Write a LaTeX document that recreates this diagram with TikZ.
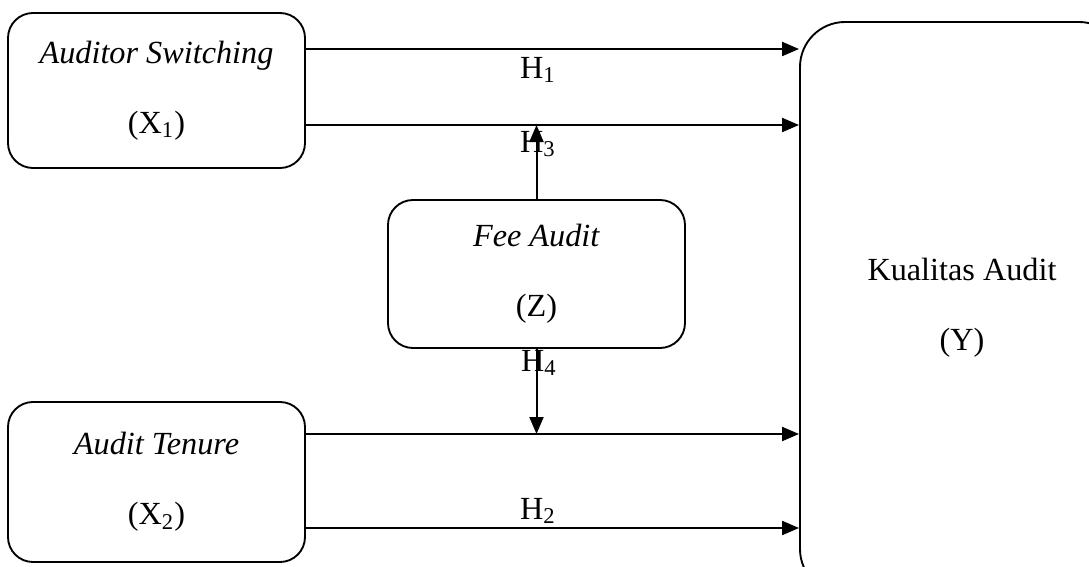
\documentclass[tikz,border=0pt]{standalone}
\usepackage{fontspec}
\setmainfont{Liberation Serif}
\usetikzlibrary{arrows.meta}
\begin{document}
\begin{tikzpicture}[x=0.4pt,y=-0.4pt,
  box/.style={draw,line width=0.75pt,rounded corners=10pt,align=center,
    font=\fontsize{12.9}{28}\selectfont,inner sep=0pt},
  arr/.style={line width=0.8pt,-{Triangle[length=6.8pt,width=5.6pt]}},
  lab/.style={font=\fontsize{12.9}{14}\selectfont,inner sep=0pt}]
\useasboundingbox (0,0) rectangle (1089,567);
\clip (0,0) rectangle (1089,567);
\node[box,minimum width=118.8pt,minimum height=62pt] (x1) at (156.5,90.5)
  {\textit{Auditor Switching}\\(X\textsubscript{1})};
\node[box,minimum width=118.8pt,minimum height=64pt] (x2) at (156.5,482)
  {\raisebox{2.4pt}{\textit{Audit Tenure}}\\\raisebox{2.4pt}{(X\textsubscript{2})}};
\node[box,minimum width=118.8pt,minimum height=59.2pt] (fee) at (536.5,274)
  {\textit{Fee Audit}\\(Z)};
\node[box,rounded corners=18pt,minimum width=129.6pt,minimum height=228.8pt] (kual) at (962,308)
  {\raisebox{-1.2pt}{Kualitas Audit}\\\raisebox{-1.2pt}{(Y)}};
\coordinate (r1) at (0,49);
\coordinate (r2) at (0,125);
\coordinate (r3) at (0,434);
\coordinate (r4) at (0,528);
\node[lab] (h1) at (538,70) {H\textsubscript{1}};
\node[lab] (h3) at (538,144) {H\textsubscript{3}};
\node[lab] (h4) at (539,363) {H\textsubscript{4}};
\node[lab] (h2) at (538,511) {H\textsubscript{2}};
\draw[arr] (x1.east |- r1) -- (kual.west |- r1);
\draw[arr] (x1.east |- r2) -- (kual.west |- r2);
\draw[arr] (x2.east |- r3) -- (kual.west |- r3);
\draw[arr] (x2.east |- r4) -- (kual.west |- r4);
\draw[arr] (fee.north) -- (fee.north |- r2);
\draw[arr] (fee.south) -- (fee.south |- r3);
\end{tikzpicture}
\end{document}
